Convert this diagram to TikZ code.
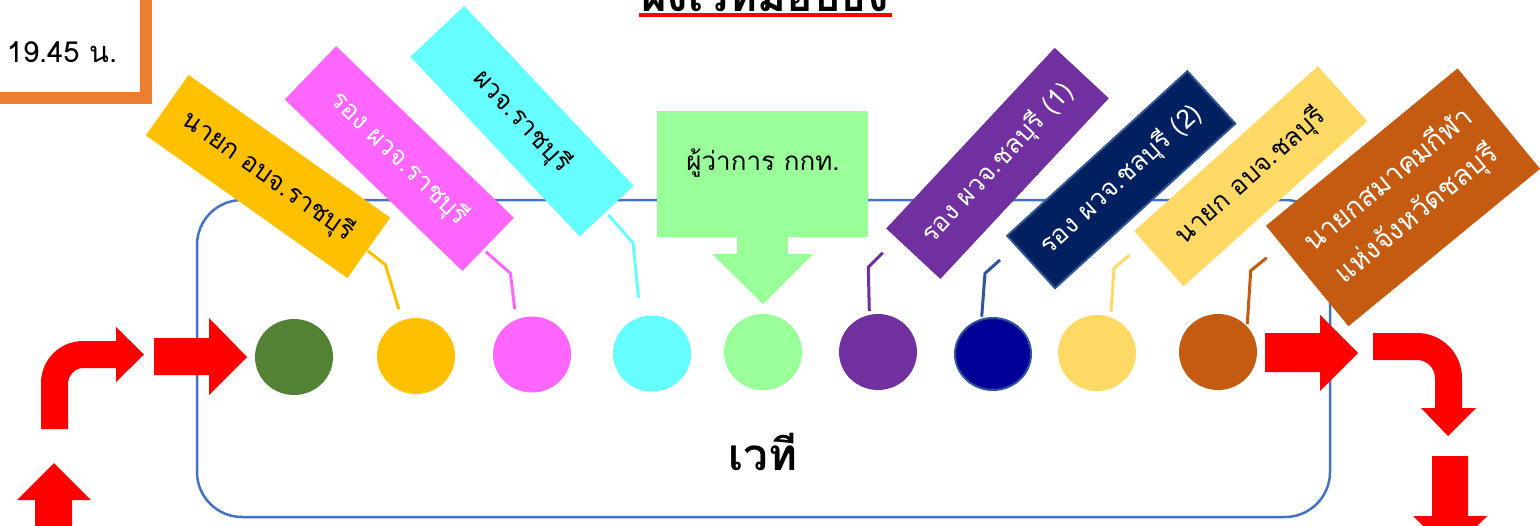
\documentclass[tikz,border=0pt]{standalone}
\usepackage{fontspec}
\newfontfamily\thai[Script=Thai]{Loma}
\usetikzlibrary{shapes.geometric}
\definecolor{cgold}{HTML}{FFC000}
\definecolor{cmag}{HTML}{FF66FF}
\definecolor{ccyan}{HTML}{66FFFF}
\definecolor{clgreen}{HTML}{99FF99}
\definecolor{cpurple}{HTML}{7030A0}
\definecolor{cnavy}{HTML}{002060}
\definecolor{cnavyb}{HTML}{2F5597}
\definecolor{cltyel}{HTML}{FFD966}
\definecolor{cbrown}{HTML}{C55A11}
\definecolor{cgreen}{HTML}{548235}
\definecolor{cdblue}{HTML}{000099}
\definecolor{cstage}{HTML}{4472C4}
\definecolor{corange}{HTML}{ED7D31}
\definecolor{cred}{HTML}{FF0000}
\begin{document}
\begin{tikzpicture}[x=1pt,y=-1pt,
  lab/.style={rectangle, inner sep=0pt, align=center, minimum width=247pt, minimum height=74pt, font=\thai\fontsize{26}{34}\selectfont},
  dot/.style={ellipse, inner sep=0pt, minimum width=78pt, minimum height=76pt},
  conn/.style={line width=3pt},
  redarrow/.style={fill=cred, draw=none}]
\useasboundingbox (0,0) rectangle (1540,525);
\clip (0,0) rectangle (1540,525);

% stage
\node[draw=cstage, line width=2.5pt, rounded corners=45pt, minimum width=1133pt, minimum height=317pt, inner sep=0pt] (stage) at (763.5,358.5) {};
\node[font=\thai\bfseries\fontsize{44}{50}\selectfont] (stagetext) at (763,452) {เวที};

% time box
\draw[corange, line width=12pt] (-20,-20) rectangle (145.5,98);
\node[font=\thai\fontsize{29}{34}\selectfont] (time) at (62,52) {19.45 น.};

% title
\node[font=\thai\bfseries\fontsize{44}{50}\selectfont, anchor=base, inner sep=0pt] (title) at (765,11) {ผังเวทีมอบธง};
\coordinate (ul1) at (639,15);
\coordinate (ul2) at (892,15);
\draw[cred, line width=4pt] (ul1) -- (ul2);

% connector points
\coordinate (a1) at (367.5,250.7); \coordinate (a2) at (385.4,264.7); \coordinate (a3) at (398.8,309.3);
\coordinate (b1) at (485.8,251.7); \coordinate (b2) at (510.4,273.3); \coordinate (b3) at (514.8,309.3);
\coordinate (c1) at (608.3,215); \coordinate (c2) at (633,243); \coordinate (c3) at (638.5,297.7);
\coordinate (e1) at (882.7,252.7); \coordinate (e2) at (868.3,267.3); \coordinate (e3) at (869.3,311);
\coordinate (f1) at (1000,260); \coordinate (f2) at (985,273.3); \coordinate (f3) at (981.7,316.7);
\coordinate (g1) at (1129.3,255); \coordinate (g2) at (1114,268.3); \coordinate (g3) at (1111,311.7);
\coordinate (h1) at (1266.7,257.7); \coordinate (h2) at (1250.7,270.7); \coordinate (h3) at (1247.3,324);

\draw[conn, cgold] (a1) -- (a2) -- (a3);
\draw[conn, cmag] (b1) -- (b2) -- (b3);
\draw[conn, ccyan] (c1) -- (c2) -- (c3);
\draw[conn, cpurple] (e1) -- (e2) -- (e3);
\draw[conn, cnavyb] (f1) -- (f2) -- (f3);
\draw[conn, cltyel] (g1) -- (g2) -- (g3);
\draw[conn, cbrown] (h1) -- (h2) -- (h3);

% labels
\node[lab, fill=cgold, rotate=-35.3] (l1) at (268,176.5) {นายก อบจ.ราชบุรี};
\node[lab, fill=cmag, text=white, rotate=-44] (l2) at (399.3,158.6) {รอง ผวจ.ราชบุรี};
\node[lab, fill=ccyan, rotate=-46.7] (l3) at (522,121.2) {ผวจ.ราชบุรี};
\fill[clgreen] (657,111) -- (868,111) -- (868,237) -- (788,237) -- (788,254) -- (813,254) -- (763,304) -- (712,254) -- (737,254) -- (737,237) -- (657,237) -- cycle;
\node[font=\thai\fontsize{26}{34}\selectfont] (l4) at (763,163) {ผู้ว่าการ กกท.};
\node[lab, fill=cpurple, text=white, rotate=47] (l5) at (997.5,163.4) {รอง ผวจ.ชลบุรี (1)};
\node[lab, fill=cnavy, draw=cnavyb, line width=2pt, text=white, rotate=42.4, minimum width=244pt, minimum height=71pt] (l6) at (1121.2,179.7) {รอง ผวจ.ชลบุรี (2)};
\node[lab, fill=cltyel, rotate=41.9] (l7) at (1250.7,176.2) {นายก อบจ.ชลบุรี};
\node[lab, fill=cbrown, text=white, rotate=39.4, minimum width=248pt, minimum height=130pt, font=\thai\fontsize{28}{44}\selectfont] (l8) at (1403,197.3) {นายกสมาคมกีฬา\\แห่งจังหวัดชลบุรี};

% circles
\node[dot, fill=cgreen] (d1) at (294,357) {};
\node[dot, fill=cgold] (d2) at (416,356) {};
\node[dot, fill=cmag] (d3) at (532,354.5) {};
\node[dot, fill=ccyan] (d4) at (652,353.5) {};
\node[dot, fill=clgreen] (d5) at (763,352) {};
\node[dot, fill=cpurple] (d6) at (878,352) {};
\node[dot, fill=cdblue, draw=cnavyb, line width=2pt, minimum width=76pt, minimum height=72pt] (d7) at (993,354) {};
\node[dot, fill=cltyel] (d8) at (1097,353) {};
\node[dot, fill=cbrown] (d9) at (1218,352) {};

% red arrows
\fill[redarrow] (154,338) -- (209,338) -- (209,318) -- (247,357) -- (209,395) -- (209,375) -- (154,375) -- cycle;
\fill[redarrow] (41,429) -- (41,383) .. controls (41,359.8) and (59.8,341) .. (83,341) -- (116,341) -- (116,327) -- (144,354.5) -- (116,382) -- (116,368) -- (83,368) .. controls (74.7,368) and (68,376.3) .. (68,383) -- (68,429) -- cycle;
\fill[redarrow] (35,540) -- (35,500) -- (17,500) -- (54,463) -- (91,500) -- (72,500) -- (72,540) -- cycle;
\fill[redarrow] (1265,333) -- (1320,333) -- (1320,315) -- (1358,353) -- (1320,391) -- (1320,372) -- (1265,372) -- cycle;
\fill[redarrow] (1373,333) -- (1417,333) .. controls (1441.85,333) and (1462,353.15) .. (1462,378) -- (1462,408) -- (1476,408) -- (1448,436) -- (1421,408) -- (1435,408) -- (1435,378) .. controls (1435,368.06) and (1426.94,360) .. (1417,360) -- (1373,360) -- cycle;
\fill[redarrow] (1432,456) -- (1468,456) -- (1468,516) -- (1487,516) -- (1450,553) -- (1413,516) -- (1432,516) -- cycle;
\end{tikzpicture}
\end{document}
